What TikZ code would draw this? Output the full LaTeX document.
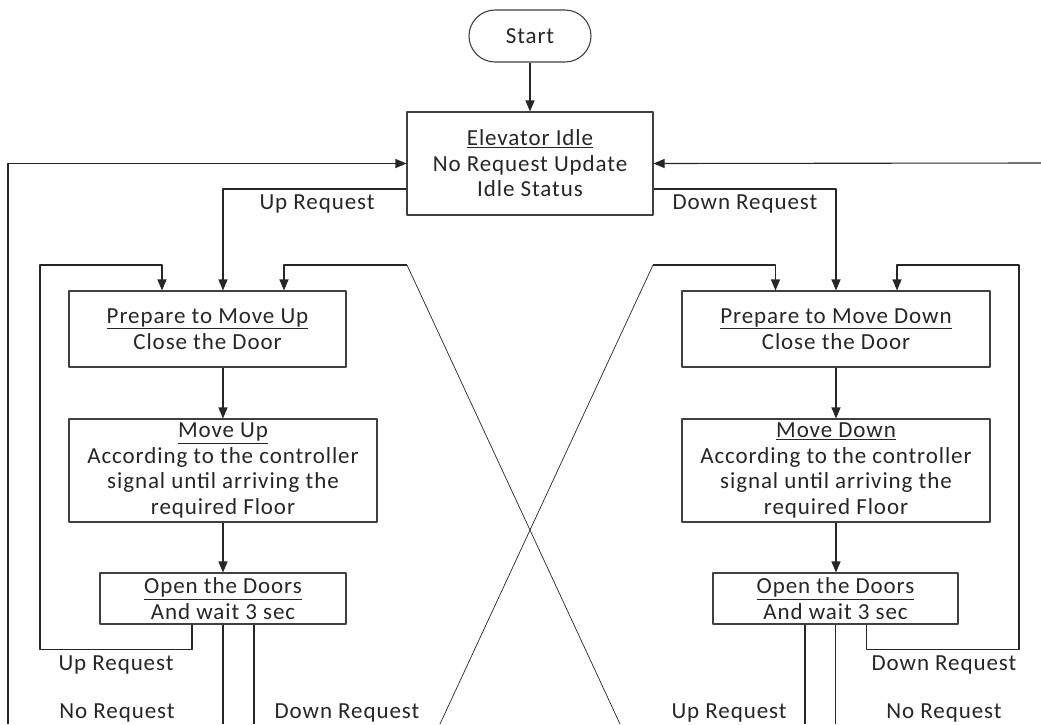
\documentclass[tikz,border=0pt]{standalone}
\usepackage{fontspec}
\setmainfont{Carlito}[LetterSpace=4]
\usetikzlibrary{arrows.meta, positioning}

\tikzset{
    box/.style={draw=black!75, line width=1.1pt, align=center, inner sep=2pt,
        font=\fontsize{23}{25.5}\selectfont, text=black!85},
    term/.style={box, rounded corners=26pt},
    arr/.style={-{Triangle[length=11pt,width=9pt]}, line width=1.1pt, draw=black!85},
    lbl/.style={font=\fontsize{23}{25.5}\selectfont, text=black!85, inner sep=0pt},
    cross/.style={line width=0.7pt, draw=black!85}
}

\begin{document}
\begin{tikzpicture}[
        x=1pt,
        y=-1pt,
        line join=round
    ]

        \useasboundingbox (0,0) rectangle (1041,724);

        % =================================
        % CAC NUT
        % =================================
        \node[term, minimum width=122pt, minimum height=52pt] (Start) at (530,36) {Start};

        \node[box, minimum width=246pt, minimum height=103pt] (Idle) at (530,163.5)
            {\underline{Elevator Idle}\\No Request Update\\Idle Status};

        % nhanh di len
        \node[box, minimum width=277pt, minimum height=76pt] (PrepUp) at (207.5,329)
            {\underline{Prepare to Move Up}\\Close the Door};
        \node[box, minimum width=308pt, minimum height=103pt] (MoveUp) at (223,470.5)
            {\underline{Move Up}\\According to the controller\\signal until arriving the\\required Floor};
        \node[box, minimum width=246pt, minimum height=51pt] (OpenUp) at (223,598.5)
            {\underline{Open the Doors}\\And wait 3 sec};

        % nhanh di xuong
        \node[box, minimum width=308pt, minimum height=76pt] (PrepDown) at (836,329)
            {\underline{Prepare to Move Down}\\Close the Door};
        \node[box, minimum width=308pt, minimum height=103pt] (MoveDown) at (836,470.5)
            {\underline{Move Down}\\According to the controller\\signal until arriving the\\required Floor};
        \node[box, minimum width=245pt, minimum height=51pt] (OpenDown) at (835.5,598.5)
            {\underline{Open the Doors}\\And wait 3 sec};

        % =================================
        % TOA DO PHU
        % =================================
        \coordinate (UpIn) at (MoveUp.north |- PrepUp.north);
        \coordinate (LB) at (8,724);
        \coordinate (RB) at (1041,163);
        \coordinate (XL) at (407,265);
        \coordinate (XR) at (653,265);
        \coordinate (XLend) at (620,724);
        \coordinate (XRend) at (440,724);

        % =================================
        % DUONG NOI
        % =================================
        \draw[arr] (Start) -- (Idle);

        % quay ve trang thai nghi
        \draw[arr] (LB) |- (Idle.west);
        \draw[arr] (RB) -- (Idle.east);

        % yeu cau tu trang thai nghi
        \draw[arr] ([yshift=-25.5pt]Idle.west) -| (UpIn);
        \draw[arr] ([yshift=-25.5pt]Idle.east) -| (PrepDown.north);

        % trong moi nhanh
        \draw[arr] (MoveUp.north |- PrepUp.south) -- (MoveUp.north);
        \draw[arr] (MoveUp) -- (OpenUp);
        \draw[arr] (PrepDown) -- (MoveDown);
        \draw[arr] (MoveDown.south) -- (MoveDown.south |- OpenDown.north);

        % vong lap cung chieu
        \draw[arr] ([xshift=-31pt]OpenUp.south) -- ++(0,25) -| (40,265) -| ([xshift=-61pt]UpIn);
        \draw[arr] ([xshift=31pt]OpenDown.south) -- ++(0,25) -| (1019,265) -| ([xshift=61pt]PrepDown.north);

        % duong cheo
        \draw[cross] (XLend) -- (XL);
        \draw[arr] (XL) -| ([xshift=61pt]UpIn);
        \draw[cross] (XRend) -- (XR);
        \draw[arr] (XR) -| ([xshift=-60.5pt]PrepDown.north);

        % cac nhanh ra ngoai
        \draw[line width=1.1pt, draw=black!85] (OpenUp.south) -- (OpenUp.south |- LB);
        \draw[line width=1.1pt, draw=black!85] ([xshift=31pt]OpenUp.south) -- ([xshift=31pt]OpenUp.south |- LB);
        \draw[line width=1.1pt, draw=black!85] ([xshift=-30.5pt]OpenDown.south) -- ([xshift=-30.5pt]OpenDown.south |- LB);
        \draw[line width=1.1pt, draw=black!85] (OpenDown.south) -- (OpenDown.south |- LB);

        % =================================
        % NHAN
        % =================================
        \node[lbl] (lUp) at (317,204) {Up Request};
        \node[lbl] (lDown) at (745,204) {Down Request};
        \node[lbl] (lUpL) at (116,665) {Up Request};
        \node[lbl] (lNoL) at (117,713) {No Request};
        \node[lbl] (lDownL) at (347,713) {Down Request};
        \node[lbl] (lDownR) at (944,665) {Down Request};
        \node[lbl] (lUpR) at (729,713) {Up Request};
        \node[lbl] (lNoR) at (944,713) {No Request};

    \end{tikzpicture}
\end{document}
